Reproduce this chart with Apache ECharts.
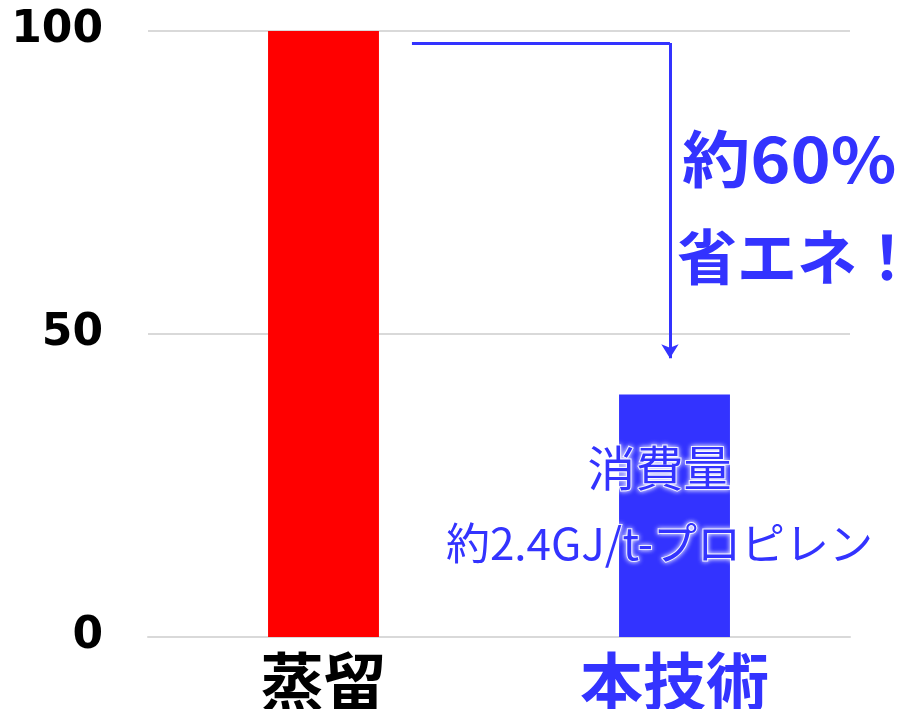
<!DOCTYPE html>
<html>
<head>
<meta charset="utf-8">
<script src="https://cdn.jsdelivr.net/npm/echarts@6/dist/echarts.min.js"></script>
<style>
  html, body { margin: 0; padding: 0; background: #fff; }
  #chart { width: 905px; height: 709px; }
</style>
</head>
<body>
<div id="chart"></div>
<script>
// Energy consumption comparison (distillation = 100)
const categories = ['蒸留', '本技術'];
const values = [100, 40];
const barColors = ['#FF0000', '#3333FF'];
const categoryColors = ['#000000', '#3333FF'];
const yTicks = [0, 50, 100];
// Bracket arrow from the distillation level down toward the new-technology level
// (x on a 0..2 helper axis spanning the two category bands)
const arrowStart = [0.752, 98];
const arrowCorner = [1.487, 98];
const arrowEnd = [1.487, 46];
const barNoteLines = ['消費量', '約2.4GJ/t-プロピレン'];
const savingText = ['約60%', '省エネ！'];

const blue = '#3333FF';
const jpFont = '"Noto Sans CJK JP", "Noto Sans", sans-serif';
const glow = {
  textBorderColor: 'rgba(255,255,255,0.85)',
  textBorderWidth: 2,
  textShadowColor: '#fff',
  textShadowBlur: 5
};

const chart = echarts.init(document.getElementById('chart'));
chart.setOption({
  animation: false,
  // fixed plot rectangle; the large category labels may extend past it
  grid: { left: 148, right: 55, top: 31, bottom: 72, outerBoundsMode: 'none', containLabel: false },
  xAxis: [
    {
      type: 'category',
      data: categories,
      axisTick: { show: false },
      axisLine: { lineStyle: { color: '#d9d9d9', width: 2 } },
      axisLabel: {
        margin: 13,
        fontSize: 63,
        fontWeight: 'bold',
        fontFamily: jpFont,
        color: (v, i) => categoryColors[i]
      }
    },
    { type: 'value', min: 0, max: 2, show: false }
  ],
  yAxis: {
    type: 'value',
    min: 0,
    max: 100,
    interval: 50,
    axisLine: { show: false },
    axisTick: { show: false },
    splitLine: { lineStyle: { color: '#d9d9d9', width: 2 } },
    axisLabel: {
      margin: 45,
      fontSize: 44,
      fontWeight: 'bold',
      fontFamily: '"DejaVu Sans", Verdana, sans-serif',
      color: '#000',
      padding: [8, 0, 0, 0],
      formatter: v => (yTicks.includes(v) ? String(v) : '')
    }
  },
  series: [
    {
      type: 'bar',
      xAxisIndex: 0,
      barWidth: '31.6%',
      data: values.map((v, i) => ({
        value: v,
        itemStyle: { color: barColors[i] },
        label: i === 1 ? {
          show: true,
          position: 'insideTop',
          distance: 0,
          offset: [-15, 35],
          formatter: '{a|' + barNoteLines[0] + '}\n{b|' + barNoteLines[1] + '}',
          fontFamily: jpFont,
          color: blue,
          rich: {
            a: Object.assign({ fontSize: 48, lineHeight: 76, fontFamily: jpFont, color: blue }, glow),
            b: Object.assign({ fontSize: 44, lineHeight: 76, fontFamily: jpFont, color: blue }, glow)
          }
        } : { show: false }
      }))
    },
    {
      type: 'line',
      xAxisIndex: 1,
      data: [],
      markLine: {
        silent: true,
        animation: false,
        label: { show: false },
        lineStyle: { color: blue, width: 3, type: 'solid' },
        data: [
          [{ coord: arrowStart, symbol: 'none' }, { coord: arrowCorner, symbol: 'none' }],
          [{ coord: arrowCorner, symbol: 'none' }, { coord: arrowEnd, symbol: 'arrow', symbolSize: [13, 14] }]
        ]
      }
    }
  ],
  graphic: [
    {
      type: 'text',
      x: 682,
      y: 128,
      scaleX: 1.1,
      style: {
        text: savingText[0],
        fontSize: 62,
        fontWeight: 'bold',
        fontFamily: jpFont,
        fill: blue
      }
    },
    {
      type: 'text',
      x: 677,
      y: 227,
      style: {
        text: savingText[1],
        fontSize: 60,
        fontWeight: 'bold',
        fontFamily: jpFont,
        fill: blue
      }
    }
  ]
});
</script>
</body>
</html>
